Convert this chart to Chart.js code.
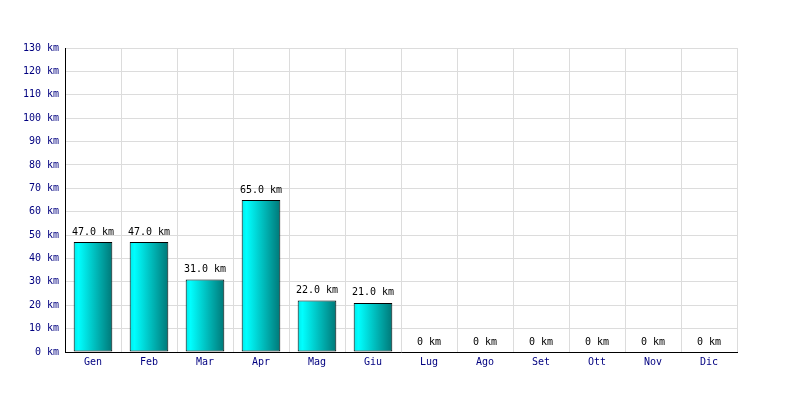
<html><head><meta charset="UTF-8">
<title>Km per mese</title>
<script src="https://cdn.jsdelivr.net/npm/chart.js"></script>
<style>
body { margin: 0; background: #ffffff; }
#chart { display: block; }
</style>
</head>
<body>
<canvas id="chart" width="800" height="400"></canvas>
<script>
// Data
const months = ['Gen', 'Feb', 'Mar', 'Apr', 'Mag', 'Giu', 'Lug', 'Ago', 'Set', 'Ott', 'Nov', 'Dic'];
const km = [47, 47, 31, 65, 22, 21, 0, 0, 0, 0, 0, 0];
const yMax = 130;
const yStep = 10;
const barPct = 0.69;

const monoFont = { family: "'DejaVu Sans Mono', monospace", size: 10 };

// gradient cyan -> teal across each bar
function barGradient(ctx) {
  const chart = ctx.chart;
  const xs = chart.scales.x;
  if (!xs || !chart.chartArea || ctx.dataIndex === undefined) return '#00cccc';
  const cx = xs.getPixelForValue(ctx.dataIndex);
  const half = (chart.chartArea.width / months.length) * barPct / 2;
  if (!isFinite(cx) || !isFinite(half)) return '#00cccc';
  const g = chart.ctx.createLinearGradient(cx - half, 0, cx + half, 0);
  g.addColorStop(0, '#00e8e8');
  g.addColorStop(0.12, '#00ffff');
  g.addColorStop(1, '#007878');
  return g;
}

// value labels above bars
const valueLabels = {
  id: 'valueLabels',
  afterDatasetsDraw(chart) {
    const c = chart.ctx;
    const meta = chart.getDatasetMeta(0);
    c.save();
    c.font = "10px 'DejaVu Sans Mono', monospace";
    c.fillStyle = '#000000';
    c.textAlign = 'center';
    c.textBaseline = 'bottom';
    meta.data.forEach((bar, i) => {
      const v = km[i];
      const txt = v === 0 ? '0 km' : v.toFixed(1) + ' km';
      c.fillText(txt, bar.x, bar.y - 5);
    });
    c.restore();
  }
};

new Chart(document.getElementById('chart').getContext('2d'), {
  type: 'bar',
  data: {
    labels: months,
    datasets: [{
      data: km,
      backgroundColor: barGradient,
      borderColor: '#000000',
      borderWidth: 1,
      borderSkipped: false,
      categoryPercentage: 1,
      barPercentage: barPct
    }]
  },
  options: {
    responsive: false,
    animation: false,
    layout: { padding: { top: 48, right: 63, bottom: 0, left: 0 } },
    plugins: { legend: { display: false }, tooltip: { enabled: false } },
    scales: {
      x: {
        grid: { color: '#dcdcdc', drawTicks: false, offset: true },
        border: { color: '#000000', width: 1 },
        ticks: { color: '#000080', font: monoFont, padding: 4 },
        afterFit(scale) { scale.height = 48; }
      },
      y: {
        min: 0,
        max: yMax,
        grid: { color: '#dcdcdc', drawTicks: false },
        border: { color: '#000000', width: 1 },
        ticks: {
          stepSize: yStep,
          color: '#000080',
          font: monoFont,
          padding: 6,
          callback: v => v + ' km'
        },
        afterFit(scale) { scale.width = 65; }
      }
    }
  },
  plugins: [valueLabels]
});
</script>
</body></html>
